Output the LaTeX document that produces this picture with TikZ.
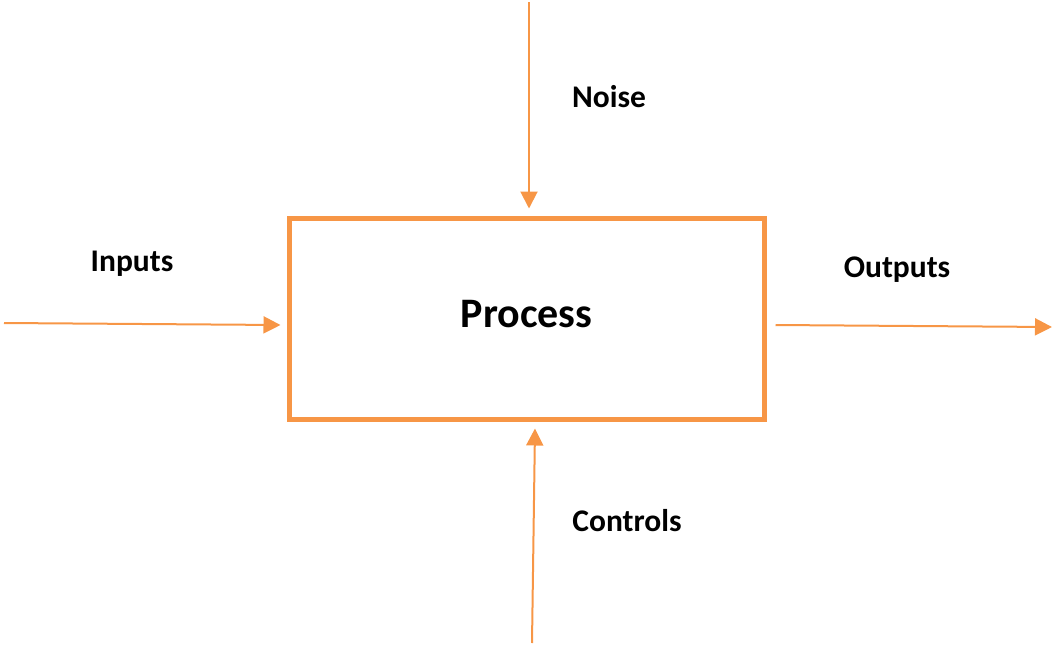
\documentclass[tikz,border=0pt]{standalone}
\usepackage{fontspec}
\setmainfont{Carlito}
\usepackage{xcolor}
\usetikzlibrary{arrows.meta,positioning}
\definecolor{accentorange}{HTML}{F79646}
\tikzset{%
	processbox/.style = {draw=accentorange, line width=5pt, rectangle, minimum width=475pt, minimum height=201pt, inner sep=0pt, font=\fontsize{42}{48}\selectfont\bfseries, text centered},
	flow/.style       = {draw=accentorange, line width=2pt, -{Triangle[length=17pt,width=17pt]}},
	tag/.style        = {font=\fontsize{31.5}{36}\selectfont\bfseries, inner sep=0pt},
}

\begin{document}
\begin{tikzpicture}[x=1pt,y=-1pt]
	\useasboundingbox (0,0) rectangle (1053,645);
	
	\node[processbox] (process) at (526.5,318.5) {\raisebox{10pt}{Process}};
	
	\coordinate (noisesrc) at (529,2);
	\coordinate (insrc) at (4,323);
	\coordinate (outend) at (1052,327);
	\coordinate (ctrlsrc) at (532,643);
	
	\draw[flow] (noisesrc) -- ([xshift=2.5pt,yshift=7pt]process.north);
	\draw[flow] (insrc) -- ([xshift=-6pt,yshift=-6.5pt]process.west);
	\draw[flow] ([xshift=9pt,yshift=-6.5pt]process.east) -- (outend);
	\draw[flow] (ctrlsrc) -- ([xshift=8.5pt,yshift=-7pt]process.south);
	
	\node[tag] (noise) at (609,97) {Noise};
	\node[tag] (inputs) at (132,264) {Inputs};
	\node[tag] (outputs) at (897,270) {Outputs};
	\node[tag] (controls) at (627,521) {Controls};
\end{tikzpicture}
\end{document}
